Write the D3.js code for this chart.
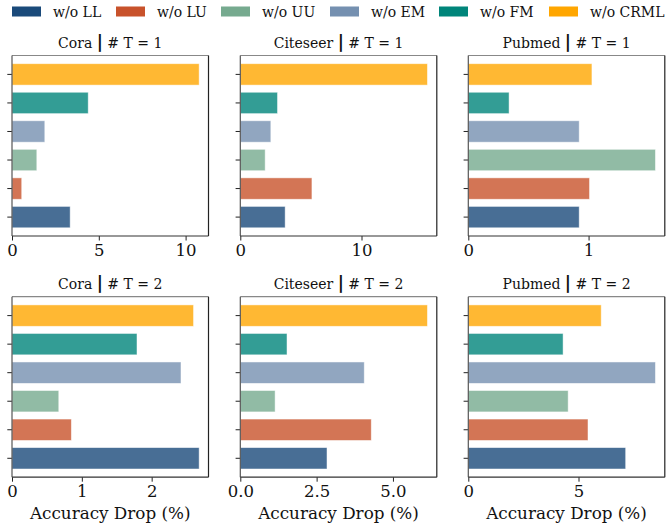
<!DOCTYPE html>
<html>
<head>
<meta charset="utf-8">
<script src="https://cdn.jsdelivr.net/npm/d3@7"></script>
<style>
  body { margin: 0; background: #fff; }
  svg { display: block; font-family: "DejaVu Serif", serif; }
</style>
</head>
<body>
<div id="chart"></div>
<script>
(function(){
  // ablation variants, bottom to top
  const variants = ["w/o LL", "w/o LU", "w/o UU", "w/o EM", "w/o FM", "w/o CRML"];
  const colors = ["#1a4a7a", "#c8522b", "#76aa8f", "#7590b0", "#00857a", "#ffa600"];

  const datasets = ["Cora", "Citeseer", "Pubmed"];
  const tasks = [1, 2];

  // accuracy drop (%) per variant, order as in variants
  const coraT1 = [3.35, 0.56, 1.43, 1.89, 4.39, 10.78];
  const citeseerT1 = [3.70, 5.91, 2.05, 2.52, 3.07, 15.44];
  const pubmedT1 = [0.922, 1.008, 1.556, 0.922, 0.339, 1.028];
  const coraT2 = [2.68, 0.85, 0.67, 2.42, 1.79, 2.60];
  const citeseerT2 = [2.84, 4.29, 1.14, 4.06, 1.53, 6.13];
  const pubmedT2 = [7.14, 5.43, 4.53, 8.49, 4.30, 6.03];

  const xTicks = [
    [[0, 5, 10], [0, 10], [0, 1]],
    [[0, 1, 2], [0, 2.5, 5.0], [0, 5]]
  ];
  const tickFormats = [
    [d3.format("d"), d3.format("d"), d3.format("d")],
    [d3.format("d"), d3.format(".1f"), d3.format("d")]
  ];
  const values = [
    [coraT1, citeseerT1, pubmedT1],
    [coraT2, citeseerT2, pubmedT2]
  ];

  const width = 667, height = 530;
  const svg = d3.select("#chart").append("svg")
    .attr("width", width)
    .attr("height", height);

  // legend
  const legendX = [12, 116, 221, 330, 439, 549];
  const legend = svg.append("g").attr("class", "legend");
  variants.forEach((v, i) => {
    const g = legend.append("g").attr("transform", `translate(${legendX[i]},0)`);
    g.append("rect")
      .attr("x", 0).attr("y", 6.5)
      .attr("width", 29).attr("height", 10)
      .attr("fill", colors[i]);
    g.append("text")
      .attr("x", 41).attr("y", 17)
      .attr("font-size", 14)
      .attr("fill", "#111")
      .text(v);
  });

  const colX = [12, 240.3, 468.3];
  const panelW = 196.5;
  const rowY = [55.5, 296.7];
  const panelH = 180.5;

  tasks.forEach((t, r) => {
    datasets.forEach((name, c) => {
      const vals = values[r][c];
      const maxV = d3.max(vals);
      const g = svg.append("g")
        .attr("transform", `translate(${colX[c]},${rowY[r]})`);

      const x = d3.scaleLinear()
        .domain([0, maxV * 1.05])
        .range([0, panelW]);

      // matplotlib style: band of 1 unit, bar height 0.75, 5% margins
      const n = variants.length;
      const lo = -0.375, hi = n - 1 + 0.375;
      const pad = (hi - lo) * 0.05;
      const y = d3.scaleLinear()
        .domain([lo - pad, hi + pad])
        .range([panelH, 0]);

      g.selectAll(".bar")
        .data(vals)
        .enter().append("rect")
        .attr("class", "bar")
        .attr("x", x(0))
        .attr("y", (d, i) => y(i + 0.375))
        .attr("width", d => x(d) - x(0))
        .attr("height", y(0) - y(0.75))
        .attr("fill", (d, i) => colors[i])
        .attr("fill-opacity", 0.8)
        .attr("stroke", "#fff")
        .attr("stroke-opacity", 0.6)
        .attr("stroke-width", 0.8);

      // y ticks (no labels)
      g.selectAll(".ytick")
        .data(d3.range(n))
        .enter().append("line")
        .attr("x1", -4.7).attr("x2", 0)
        .attr("y1", d => y(d)).attr("y2", d => y(d))
        .attr("stroke", "#222").attr("stroke-width", 1);

      // x axis
      const xAxis = d3.axisBottom(x)
        .tickValues(xTicks[r][c])
        .tickFormat(tickFormats[r][c])
        .tickSize(4.5)
        .tickPadding(4);
      const ax = g.append("g")
        .attr("transform", `translate(0,${panelH})`)
        .call(xAxis);
      ax.select(".domain").remove();
      ax.selectAll(".tick line").attr("stroke", "#222");
      ax.selectAll(".tick text")
        .attr("font-family", "DejaVu Serif")
        .attr("font-size", 16.5)
        .attr("fill", "#111");

      // spines
      g.append("line").attr("x1", 0).attr("x2", panelW).attr("y1", 0).attr("y2", 0)
        .attr("stroke", "#888").attr("stroke-width", 1.2);
      g.append("line").attr("x1", panelW).attr("x2", panelW).attr("y1", 0).attr("y2", panelH)
        .attr("stroke", "#222").attr("stroke-width", 1.2);
      g.append("line").attr("x1", 0).attr("x2", 0).attr("y1", 0).attr("y2", panelH)
        .attr("stroke", "#555").attr("stroke-width", 1.2);
      g.append("line").attr("x1", 0).attr("x2", panelW).attr("y1", panelH).attr("y2", panelH)
        .attr("stroke", "#333").attr("stroke-width", 1.2);

      // title
      const title = g.append("text")
        .attr("x", panelW / 2)
        .attr("y", -7.5)
        .attr("text-anchor", "middle")
        .attr("font-size", 14)
        .attr("fill", "#111");
      title.append("tspan").text(name + " ");
      title.append("tspan")
        .attr("font-family", "DejaVu Sans")
        .attr("font-weight", "bold")
        .attr("font-size", 17)
        .text("|");
      title.append("tspan").text(" # T = " + t);

      if (r === 1) {
        g.append("text")
          .attr("x", panelW / 2)
          .attr("y", panelH + 42)
          .attr("text-anchor", "middle")
          .attr("font-size", 16.8)
          .attr("fill", "#111")
          .text("Accuracy Drop (%)");
      }
    });
  });
})();
</script>
</body>
</html>
